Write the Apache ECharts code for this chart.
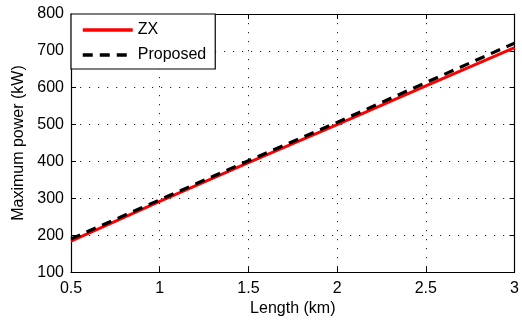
<!DOCTYPE html>
<html><head><meta charset="utf-8">
<script src="https://cdn.jsdelivr.net/npm/echarts@6/dist/echarts.min.js"></script>
<style>html,body{margin:0;padding:0;background:#fff}#c{width:522px;height:322px}</style>
</head><body><div id="c"></div>
<script>
var lengths = [0.5, 1, 1.5, 2, 2.5, 3];
var zxPower = [184, 292, 397, 500, 605, 709];
var proposedPower = [190, 296, 402, 506, 614, 721];
var xTicks = {min: 0.5, max: 3, interval: 0.5};
var yTicks = {min: 100, max: 800, interval: 100};

function pairs(xs, ys){ return xs.map(function(x,i){return [x, ys[i]];}); }
var FONT = 'Liberation Sans, Arial, sans-serif';
var grid = {left: 71, right: 3, top: 14, bottom: 49};
var dotted = {show: true, lineStyle: {color: '#222', width: 1, type: [1.2, 7.8]}};
var chart = echarts.init(document.getElementById('c'));
chart.setOption({
  animation: false,
  grid: grid,
  legend: {
    left: 71, top: 14, orient: 'vertical',
    itemWidth: 50, itemHeight: 14, itemGap: 9,
    padding: [8, 9, 6, 10],
    borderColor: '#000', borderWidth: 1.2, backgroundColor: '#fff',
    itemStyle: {opacity: 0, borderWidth: 0},
    lineStyle: {width: 3.5},
    textStyle: {fontFamily: FONT, fontSize: 16, color: '#000', lineHeight: 16},
    data: ['ZX', 'Proposed']
  },
  xAxis: [{
    type: 'value', min: xTicks.min, max: xTicks.max, interval: xTicks.interval,
    name: 'Length (km)', nameLocation: 'middle', nameGap: 26,
    nameTextStyle: {fontFamily: FONT, fontSize: 16, color: '#000'},
    axisLine: {lineStyle: {color: '#000', width: 1.2}},
    axisTick: {inside: true, length: 5, lineStyle: {color: '#000'}},
    axisLabel: {fontFamily: FONT, fontSize: 16, color: '#000', margin: 8},
    splitLine: dotted
  }, {
    type: 'value', position: 'top', min: xTicks.min, max: xTicks.max, interval: xTicks.interval,
    axisLine: {show: true, lineStyle: {color: '#000', width: 1.2}},
    axisTick: {inside: true, length: 5, lineStyle: {color: '#000'}},
    axisLabel: {show: false}, splitLine: {show: false}
  }],
  yAxis: [{
    type: 'value', min: yTicks.min, max: yTicks.max, interval: yTicks.interval,
    name: 'Maximum power (kW)', nameLocation: 'middle', nameGap: 41,
    nameTextStyle: {fontFamily: FONT, fontSize: 16, color: '#000'},
    axisLine: {show: true, lineStyle: {color: '#000', width: 1.2}},
    axisTick: {show: true, inside: true, length: 5, lineStyle: {color: '#000'}},
    axisLabel: {fontFamily: FONT, fontSize: 16, color: '#000', margin: 7},
    splitLine: dotted
  }, {
    type: 'value', position: 'right', min: yTicks.min, max: yTicks.max, interval: yTicks.interval,
    axisLine: {show: true, lineStyle: {color: '#000', width: 1.2}},
    axisTick: {show: true, inside: true, length: 5, lineStyle: {color: '#000'}},
    axisLabel: {show: false}, splitLine: {show: false}
  }],
  series: [{
    name: 'ZX', type: 'line', symbol: 'none', z: 3,
    lineStyle: {color: '#ff0000', width: 3},
    itemStyle: {color: '#ff0000'},
    data: pairs(lengths, zxPower)
  }, {
    name: 'Proposed', type: 'line', symbol: 'none', z: 4,
    lineStyle: {color: '#000', width: 3.2, type: [10, 7]},
    itemStyle: {color: '#000'},
    data: pairs(lengths, proposedPower)
  }]
});
</script></body></html>
